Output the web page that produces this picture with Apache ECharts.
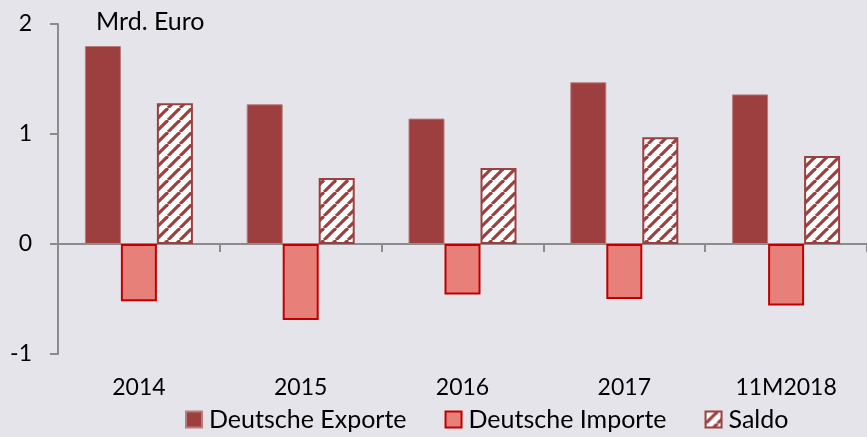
<!DOCTYPE html>
<html>
<head>
<meta charset="utf-8">
<script src="https://cdn.jsdelivr.net/npm/echarts@6/dist/echarts.min.js"></script>
<style>
  html, body { margin: 0; padding: 0; background: #e6e4eb; }
  #chart { width: 867px; height: 437px; }
</style>
</head>
<body>
<div id="chart"></div>
<script>
// Daten (Mrd. Euro)
const categories = ['2014', '2015', '2016', '2017', '11M2018'];
const exporte = [1.80, 1.27, 1.14, 1.47, 1.36];
const importe = [-0.52, -0.69, -0.46, -0.50, -0.56];
const saldo = [1.28, 0.60, 0.69, 0.97, 0.80];
const yTicks = [-1, 0, 1, 2];

const FONT = 'Lato';
const DARK_RED = '#9c3f3e';

// Schraffur für Saldo
function hatchPattern() {
  const s = 12;
  const c = document.createElement('canvas');
  c.width = s; c.height = s;
  const ctx = c.getContext('2d');
  ctx.fillStyle = '#ffffff';
  ctx.fillRect(0, 0, s, s);
  ctx.strokeStyle = DARK_RED;
  ctx.lineWidth = 3.2;
  for (let k = -1; k <= 1; k++) {
    ctx.beginPath();
    ctx.moveTo(k * s, s);
    ctx.lineTo(k * s + s, 0);
    ctx.stroke();
  }
  return c;
}

const chart = echarts.init(document.getElementById('chart'));

chart.setOption({
  backgroundColor: '#e6e4eb',
  animation: false,
  textStyle: { fontFamily: FONT },
  title: {
    text: 'Mrd. Euro',
    left: 91,
    top: 4,
    textStyle: { fontFamily: FONT, fontSize: 25, fontWeight: 'normal', color: '#000' }
  },
  grid: { left: 58, right: -4, top: 24, bottom: 83 },
  legend: {
    bottom: 0,
    left: 180,
    icon: 'rect',
    itemWidth: 16,
    itemHeight: 16,
    itemGap: 38,
    textStyle: { fontFamily: FONT, fontSize: 25, color: '#000', padding: [0, 0, 0, 2] },
    data: ['Deutsche Exporte', 'Deutsche Importe', 'Saldo']
  },
  xAxis: [
    {
      type: 'category',
      data: categories,
      axisLine: { onZero: true, lineStyle: { color: '#8c8c8c', width: 2 } },
      axisTick: { show: true, length: 8, lineStyle: { color: '#8c8c8c', width: 2 } },
      axisLabel: { show: false }
    },
    {
      type: 'category',
      data: categories,
      position: 'bottom',
      axisLine: { show: false, onZero: false },
      axisTick: { show: false },
      axisLabel: { fontFamily: FONT, fontSize: 23, color: '#000', margin: 22 }
    }
  ],
  yAxis: {
    type: 'value',
    min: yTicks[0],
    max: yTicks[yTicks.length - 1],
    interval: 1,
    splitLine: { show: false },
    axisLine: { show: true, lineStyle: { color: '#8c8c8c', width: 2 } },
    axisTick: { show: true, length: 8, lineStyle: { color: '#8c8c8c', width: 2 } },
    axisLabel: { fontFamily: FONT, fontSize: 23, color: '#000', margin: 26 }
  },
  series: [
    {
      name: 'Deutsche Exporte',
      type: 'bar',
      data: exporte,
      barWidth: 36,
      barGap: '0%',
      itemStyle: { color: DARK_RED, borderColor: '#b87c7b', borderWidth: 1 }
    },
    {
      name: 'Deutsche Importe',
      type: 'bar',
      data: importe,
      barWidth: 36,
      barGap: '0%',
      itemStyle: { color: '#e8807a', borderColor: '#c00000', borderWidth: 2 }
    },
    {
      name: 'Saldo',
      type: 'bar',
      data: saldo,
      barWidth: 36,
      barGap: '0%',
      itemStyle: {
        color: { image: hatchPattern(), repeat: 'repeat' },
        borderColor: DARK_RED,
        borderWidth: 2
      }
    }
  ]
});
</script>
</body>
</html>
